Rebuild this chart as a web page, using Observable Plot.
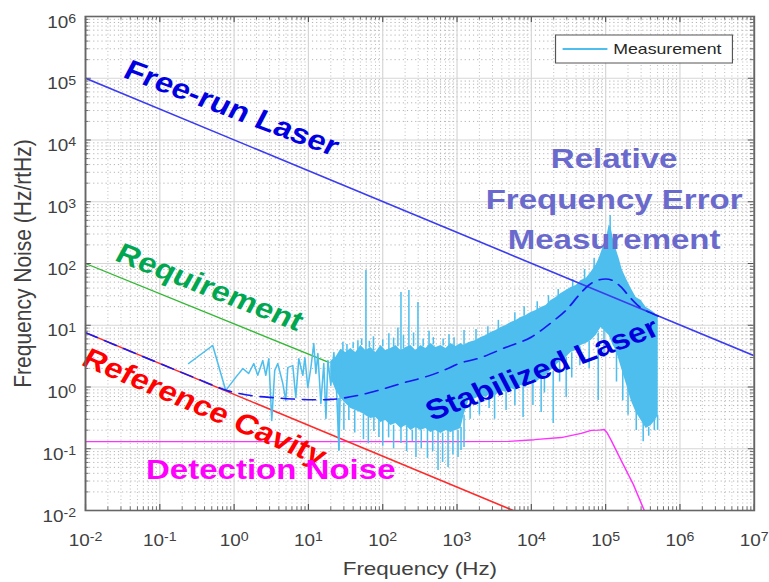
<!DOCTYPE html>
<html><head><meta charset="utf-8">
<script src="https://cdn.jsdelivr.net/npm/d3@7"></script>
<script src="https://cdn.jsdelivr.net/npm/@observablehq/plot@0.6"></script>
<style>
html,body{margin:0;padding:0;background:#fff;}
#chart{width:769px;height:582px;overflow:hidden;position:relative;}
</style></head><body><div id="chart"></div>
<script>
// ---------- tick values ----------
const xTickValues = [1e-2, 1e-1, 1e0, 1e1, 1e2, 1e3, 1e4, 1e5, 1e6, 1e7];
const xTickExponents = ["-2", "-1", "0", "1", "2", "3", "4", "5", "6", "7"];
const yTickValues = [1e-2, 1e-1, 1e0, 1e1, 1e2, 1e3, 1e4, 1e5, 1e6];
const yTickExponents = ["-2", "-1", "0", "1", "2", "3", "4", "5", "6"];

// ---------- model curves ----------
const freeRunF = [1e-2, 1e7];
const freeRunV = [1e5, 3.2];
const requirementF = [1e-2, 18.8];
const requirementV = [100, 2.5];
const cavityF = [1e-2, 5700];
const cavityV = [7.6, 0.01];
const detectionF = [1e-2, 1000, 5000, 11000, 25200, 46900, 64000, 82000, 95700, 105000, 119000, 162000, 236000, 331000];
const detectionV = [0.13, 0.13, 0.132, 0.14, 0.152, 0.177, 0.198, 0.2, 0.205, 0.18, 0.136, 0.0646, 0.0264, 0.01];
const stabilizedF = [1e-2, 0.1, 0.32, 0.8, 1.5, 3, 6, 12, 20, 46, 86, 206, 406, 760, 970, 2100, 4571, 9930, 18500, 30000, 45000, 60000, 80000, 100000, 125000, 160000, 220000, 300000, 400000, 600000];
const stabilizedV = [7.6, 2.4, 1.36, 0.88, 0.74, 0.68, 0.64, 0.62, 0.63, 0.73, 0.88, 1.2, 1.5, 2.0, 2.3, 3.0, 4.4, 6.4, 11, 18, 32, 45, 54, 56, 53, 42, 27, 19, 16, 12.9];

// ---------- measurement ----------
const measF = [0.244, 0.515, 0.771, 1.05, 1.31, 1.57, 1.84, 2.08, 2.43, 2.67, 2.93, 3.21, 3.52, 3.87, 4.52, 4.96, 5.28, 6.16, 6.76, 7.43, 8.41, 8.95, 9.82, 10.8, 11.8, 12.6, 13.4, 14.7, 16.1, 17.2, 18.3, 20.0, 22.0, 24.1, 25.7, 27.4];
const measV = [2.40, 4.70, 0.877, 1.43, 1.99, 1.65, 2.40, 1.54, 2.69, 1.54, 2.89, 0.287, 1.85, 2.40, 1.14, 0.604, 2.07, 2.23, 0.676, 2.89, 1.54, 3.00, 0.98, 2.07, 5.06, 1.65, 3.49, 0.54, 2.40, 0.309, 2.69, 1.06, 3.62, 0.73, 0.094, 2.69];
const bandF = [20.0, 23.4, 27.4, 31.9, 37.3, 43.5, 50.8, 59.4, 69.3, 81.0, 94.6, 110, 129, 151, 176, 206, 240, 280, 327, 382, 446, 521, 608, 711, 830, 970, 1132, 1242, 1452, 1803, 2105, 2460, 2872, 3357, 3917, 4571, 5346, 6237, 7295, 8511, 9931, 11610, 13550, 15820, 18490, 21580, 25230, 29440, 34360, 40180, 46880, 54830, 63970, 74650, 82030, 87300, 95720, 105200, 111700, 118900, 126500, 139000, 152400, 167400, 189700, 221300, 258200, 302000, 352400, 412100, 466600, 511700];
const bandHi = [2.60, 3.00, 4.10, 3.62, 4.20, 3.62, 4.70, 3.90, 4.37, 3.62, 4.70, 3.90, 4.20, 4.70, 3.90, 4.37, 4.70, 3.90, 4.70, 4.20, 5.06, 4.37, 4.70, 4.20, 5.06, 4.53, 5.06, 4.70, 5.26, 5.66, 6.34, 6.82, 7.64, 8.22, 9.20, 9.91, 11.1, 11.9, 13.4, 14.4, 16.1, 17.4, 19.4, 20.9, 25.2, 28.1, 32.7, 36.6, 40.8, 44.1, 53.1, 57.1, 72.0, 95.0, 120, 150, 200, 290, 420, 380, 260, 170, 120, 80.0, 57.1, 39.4, 28.1, 25.2, 19.4, 17.4, 15.5, 13.4];
const bandLo = [1.40, 0.90, 0.650, 0.541, 0.449, 0.416, 0.387, 0.345, 0.309, 0.321, 0.266, 0.286, 0.238, 0.256, 0.213, 0.238, 0.198, 0.221, 0.198, 0.213, 0.183, 0.198, 0.177, 0.198, 0.183, 0.198, 0.213, 0.345, 0.604, 0.651, 0.728, 0.676, 0.785, 0.728, 0.877, 0.815, 0.946, 0.877, 1.06, 0.982, 1.27, 1.18, 1.37, 1.54, 1.85, 2.23, 2.69, 3.01, 3.62, 3.90, 4.70, 5.06, 5.66, 6.82, 8.22, 9.20, 8.22, 7.34, 6.82, 5.66, 4.70, 3.90, 2.69, 1.85, 1.14, 0.604, 0.387, 0.286, 0.213, 0.238, 0.286, 0.345];
const spikeF = [29.1, 46.3, 59.4, 121, 176, 225, 298, 912, 1242, 115000,
  33, 40, 52, 66, 75, 100, 140, 160, 190, 260, 350, 420, 480, 650, 780, 1800, 2600, 3600, 6000, 8000, 12000, 17000, 23000, 36000, 52000, 70000,
  25.7, 35.0, 88.9, 176, 280, 555, 757, 1031, 1132, 1242, 4571, 7745, 13550, 19680, 29440, 79430, 258200, 452000,
  30, 42, 55, 64, 76, 100, 120, 140, 210, 250, 330, 400, 470, 640, 880, 1500, 2000, 2700, 3200, 6000, 10500, 15000, 24000, 35000, 45000, 60000, 95000, 140000, 170000, 200000, 320000, 380000, 500000];
const spikeLo = [3.6, 3.6, 3.9, 3.9, 3.9, 4.3, 3.9, 4.5, 4.7, 300,
  3.6, 4.2, 4.7, 4.3, 3.9, 4.5, 4.5, 4.5, 4.2, 4.5, 4.5, 4.5, 4.8, 4.6, 4.5, 5.6, 6.8, 8.5, 11.5, 14, 17, 20, 27, 40, 55, 80,
  0.094, 0.286, 0.152, 0.122, 0.072, 0.0445, 0.0497, 0.072, 0.094, 0.105, 0.416, 0.321, 0.387, 0.256, 0.676, 0.604, 0.198, 0.198,
  0.2, 0.18, 0.14, 0.12, 0.19, 0.11, 0.15, 0.10, 0.09, 0.13, 0.10, 0.07, 0.09, 0.06, 0.08, 0.30, 0.35, 0.45, 0.30, 0.50, 0.50, 0.80, 1.2, 1.4, 2.2, 2.0, 3.0, 1.2, 0.6, 0.35, 0.13, 0.16, 0.20];
const spikeHi = [5.3, 5.6, 77.1, 7.3, 33.9, 36.6, 23.3, 6.3, 8.2, 598,
  4.9, 5.2, 6.0, 5.5, 6.5, 5.8, 6.2, 9.0, 6.8, 7.5, 6.0, 8.0, 6.3, 6.0, 7.0, 8.5, 9.5, 12.0, 16, 20, 24, 30, 38, 55, 80, 120,
  0.65, 0.55, 0.32, 0.25, 0.25, 0.2, 0.2, 0.2, 0.22, 0.35, 0.82, 1.0, 1.4, 1.8, 3.0, 7.5, 0.4, 0.3,
  0.55, 0.42, 0.36, 0.33, 0.32, 0.28, 0.27, 0.24, 0.23, 0.2, 0.2, 0.21, 0.19, 0.18, 0.19, 0.6, 0.7, 0.75, 0.75, 0.9, 1.2, 1.5, 2.6, 3.6, 4.5, 5.5, 8.2, 3.9, 1.85, 1.1, 0.3, 0.22, 0.35];

// ---------- text ----------
const xLabel = "Frequency (Hz)";
const yLabel = "Frequency Noise (Hz/rtHz)";
const legendLabel = "Measurement";

const pairs = (F, V) => F.map((f, i) => [f, V[i]]);
const W = 652, H = 582, ML = 72, MR = 13, MT = 16, MB = 72;
const frameW = W - ML - MR, frameH = H - MT - MB;
const xMinor = xTickValues.slice(0, -1).flatMap(d => [2,3,4,5,6,7,8,9].map(k => k * d));
const yMinor = yTickValues.slice(0, -1).flatMap(d => [2,3,4,5,6,7,8,9].map(k => k * d));
const annoFont = {fontWeight: "bold", fontSize: 28, fontFamily: "Liberation Sans, Arial, sans-serif"};
const lin = (F, V, o) => Plot.line(pairs(F, V), {x: d => d[0], y: d => d[1], clip: true, ...o});

const svg = Plot.plot({
  width: W, height: H,
  marginLeft: ML, marginRight: MR, marginTop: MT, marginBottom: MB,
  style: {fontFamily: "Liberation Sans, Arial, sans-serif", background: "white"},
  x: {type: "log", domain: [1e-2, 1e7]},
  y: {type: "log", domain: [1e-2, 1e6]},
  marks: [
    Plot.gridY(yMinor, {stroke: "#a8a8a8", strokeOpacity: 1, strokeWidth: 0.8, strokeDasharray: "1,2.5"}),
    Plot.gridX(xMinor, {stroke: "#a8a8a8", strokeOpacity: 1, strokeWidth: 0.7, strokeDasharray: "1,2.5"}),
    Plot.gridY(yTickValues, {stroke: "#d6d6d6", strokeOpacity: 1, strokeWidth: 1}),
    Plot.gridX(xTickValues, {stroke: "#d6d6d6", strokeOpacity: 1, strokeWidth: 1}),
    lin(detectionF, detectionV, {stroke: "#ff33ff", strokeWidth: 1.3}),
    lin(cavityF, cavityV, {stroke: "#ff2a2a", strokeWidth: 1.5}),
    lin(requirementF, requirementV, {stroke: "#33b833", strokeWidth: 1.3}),
    Plot.areaY(bandF.map((f, i) => ({f, lo: bandLo[i], hi: bandHi[i]})), {x: "f", y1: "lo", y2: "hi", fill: "#4dbeee", clip: true}),
    Plot.ruleX(spikeF.map((f, i) => ({f, lo: spikeLo[i], hi: spikeHi[i]})), {x: "f", y1: "lo", y2: "hi", stroke: "#4dbeee", strokeWidth: 1.3, clip: true}),
    lin(measF, measV, {stroke: "#4dbeee", strokeWidth: 1.3}),
    lin(freeRunF, freeRunV, {stroke: "#3c3cf0", strokeWidth: 1.5}),
    lin(stabilizedF, stabilizedV, {stroke: "#1a1af0", strokeWidth: 1.6, strokeDasharray: "11,7", curve: "monotone-x"}),
    // annotations
    Plot.text(["Free-run Laser"], {x: [0.93], y: [3.24e4], rotate: 24, fill: "#0000e0", ...annoFont}),
    Plot.text(["Requirement"], {x: [0.469], y: [40.8], rotate: 24.7, fill: "#00a650", ...annoFont}),
    Plot.text(["Reference Cavity"], {x: [0.40], y: [0.47], rotate: 26.6, fill: "#ff0000", ...annoFont}),
    Plot.text(["Detection Noise"], {x: [3.11], y: [0.0445], fill: "#ff00ff", ...annoFont}),
    Plot.text(["Stabilized Laser"], {x: [14000], y: [1.92], rotate: -24, fill: "#0000dd", ...annoFont}),
    Plot.text(["Relative\nFrequency Error\nMeasurement"], {x: [1.3e5], y: [1262], lineHeight: 1.45, fill: "#6a6acd", ...annoFont}),
    // frame & inward ticks
    Plot.tickX(xTickValues, {x: d => d, insetTop: frameH - 6, stroke: "#555", strokeWidth: 1}),
    Plot.tickX(xTickValues, {x: d => d, insetBottom: frameH - 6, stroke: "#555", strokeWidth: 1}),
    Plot.tickX(xMinor, {x: d => d, insetTop: frameH - 3.5, stroke: "#555", strokeWidth: 0.8}),
    Plot.tickX(xMinor, {x: d => d, insetBottom: frameH - 3.5, stroke: "#555", strokeWidth: 0.8}),
    Plot.tickY(yTickValues, {y: d => d, insetRight: frameW - 5, stroke: "#555", strokeWidth: 1}),
    Plot.tickY(yTickValues, {y: d => d, insetLeft: frameW - 5, stroke: "#555", strokeWidth: 1}),
    Plot.tickY(yMinor, {y: d => d, insetRight: frameW - 3, stroke: "#555", strokeWidth: 0.8}),
    Plot.tickY(yMinor, {y: d => d, insetLeft: frameW - 3, stroke: "#555", strokeWidth: 0.8}),
    Plot.frame({stroke: "#666", strokeWidth: 1.6}),
    Plot.axisX({ticks: xTickValues, tickFormat: (d) => "10^" + xTickExponents[xTickValues.indexOf(d)], tickSize: 0, tickPadding: 24, fontSize: 16, color: "#404040", label: null}),
    Plot.axisY({ticks: yTickValues, tickFormat: (d) => "10^" + yTickExponents[yTickValues.indexOf(d)], tickSize: 0, tickPadding: 8, fontSize: 16, color: "#404040", label: null, dy: 6}),
    Plot.text([xLabel], {frameAnchor: "bottom", dy: 58, lineAnchor: "middle", textAnchor: "middle", fontSize: 19, fill: "#404040"}),
    Plot.text([yLabel], {frameAnchor: "left", dx: -53, rotate: -90, lineAnchor: "middle", textAnchor: "middle", fontSize: 21, fill: "#404040"})
  ]
});

// superscript exponents
const NS = "http://www.w3.org/2000/svg";
svg.querySelectorAll("text").forEach(t => {
  const m = t.textContent.match(/^10\^(-?\d+)$/);
  if (!m) return;
  t.textContent = "";
  const a = document.createElementNS(NS, "tspan"); a.textContent = "10";
  const b = document.createElementNS(NS, "tspan"); b.textContent = m[1];
  b.setAttribute("dy", "-0.4em"); b.setAttribute("font-size", "0.75em");
  t.append(a, b);
});

// legend
const lg = d3.select(svg).append("g").attr("text-anchor", "start");
lg.append("rect").attr("x", 471).attr("y", 35).attr("width", 150).attr("height", 28)
  .attr("fill", "white").attr("stroke", "#555").attr("stroke-width", 1);
lg.append("path").attr("d", "M477,49H515").attr("fill", "none")
  .attr("stroke", "#4dbeee").attr("stroke-width", 1.8);
lg.append("text").attr("x", 520).attr("y", 49).attr("dy", "0.35em").attr("font-size", 15)
  .attr("text-anchor", "start").attr("fill", "#262626").text(legendLabel);

// the reference figure is horizontally stretched
svg.setAttribute("preserveAspectRatio", "none");
svg.setAttribute("width", 769);
svg.style.width = "769px";
svg.style.height = "582px";
svg.style.maxWidth = "none";
document.getElementById("chart").append(svg);
</script></body></html>
